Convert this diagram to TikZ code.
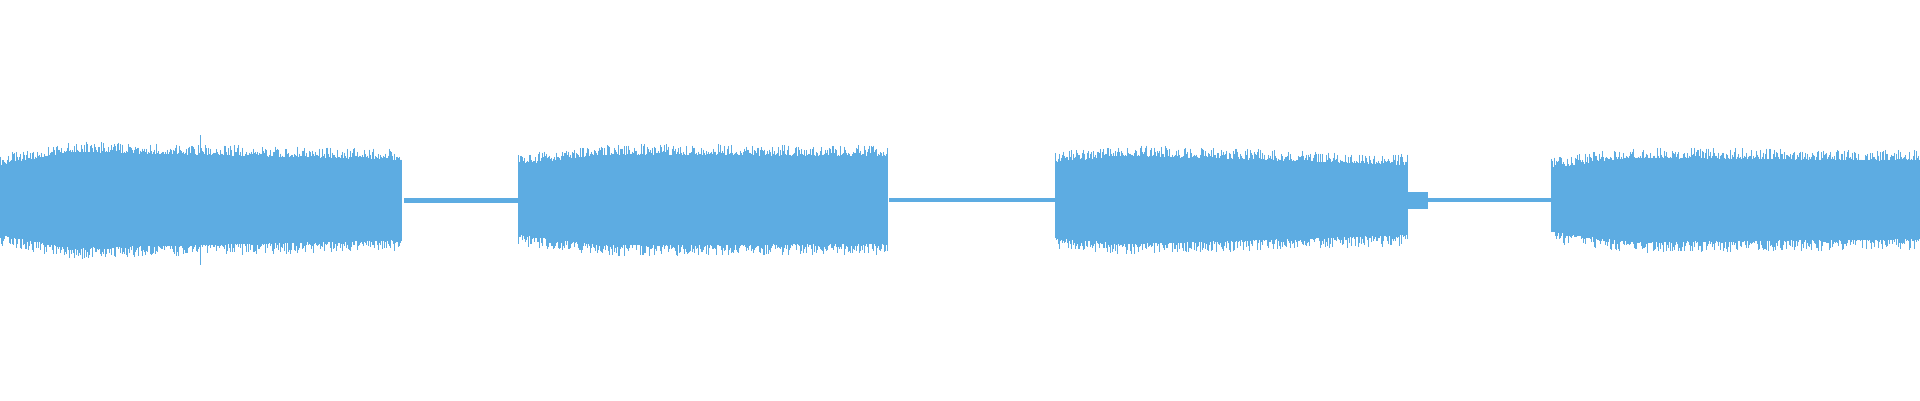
\documentclass[tikz,border=0pt]{standalone}
\usetikzlibrary{positioning}
\definecolor{wave}{RGB}{93,172,226}
\tikzset{
  trace/.style={draw=wave, line width=0.7pt},
  quiet/.style={fill=wave, draw=wave, line width=0.2pt}
}
% burst from x0 to x1, half-amplitude a0 -> a1
\newcommand{\burstseg}[4]{%
  \foreach \xx in {#1,#1.8,...,#2}{%
    \pgfmathsetmacro{\aa}{#3+(#4-#3)*(\xx-#1)/(#2-#1)}%
    \pgfmathsetmacro{\up}{\aa+11*rnd^2-5}%
    \pgfmathsetmacro{\dn}{\aa+11*rnd^2-5}%
    \draw[trace] (\xx,200+\up) -- (\xx,200-\dn);
  }%
}
\begin{document}
\begin{tikzpicture}[x=1pt,y=1pt]
\pgfmathsetseed{7}
\useasboundingbox (0,0) rectangle (1920,400);
% quiet gaps
\fill[quiet] (404,198) rectangle (518,202);
\fill[quiet] (889,198.5) rectangle (1055,201.5);
\fill[quiet] (1408,192) rectangle (1427,208);
\fill[quiet] (1427,198.5) rectangle (1551,201.5);
% bursts
\burstseg{0}{70}{40}{53}
\burstseg{70}{402}{53}{45}
\burstseg{518}{600}{40}{50}
\burstseg{600}{888}{50}{49}
\burstseg{1055}{1130}{43}{49}
\burstseg{1130}{1408}{49}{40}
\burstseg{1551}{1630}{37}{47}
\burstseg{1630}{1920}{47}{44}
% spike
\draw[trace] (200,265) -- (200,135);
\end{tikzpicture}
\end{document}
